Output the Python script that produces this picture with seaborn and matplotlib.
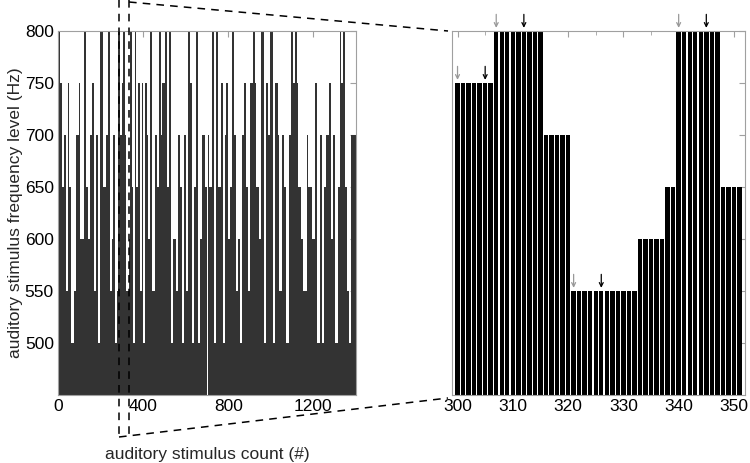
import numpy as np
import matplotlib
matplotlib.use('Agg')
import matplotlib.pyplot as plt
from matplotlib.lines import Line2D
import seaborn as sns

sns.set_style('white')
plt.rcParams['font.family'] = ['Liberation Sans', 'DejaVu Sans']

# stimulus sequence, run-length encoded (level in Hz, tones per run)
run_levels = [800, 750, 650, 700, 550, 750, 650, 500, 550, 700, 750, 600, 800, 650, 600, 700, 750, 550, 700, 500, 800, 650,
              650, 700, 800, 550, 600, 700, 500, 550, 800, 700,
              750, 800, 700, 550, 600, 650, 800, 650,
              500, 800, 650, 750, 550, 750, 500, 750, 700, 600, 800, 550,
              700, 650, 800, 700, 750, 800, 650, 800, 500, 600, 550, 700, 650, 500, 700, 550, 800, 750, 500, 650, 800, 500, 600, 700, 650,
              0,
              700, 650, 800, 500, 800, 650, 750, 500, 700, 750, 600, 650, 800, 700, 550, 600, 500, 700, 750, 650, 550, 750, 800,
              750, 650, 600, 800, 500, 750, 700, 800, 500, 750, 700, 550, 700, 650, 500, 700, 800, 750, 800, 750, 650, 600, 550,
              550, 700, 650, 600, 750, 500, 700, 500, 650, 700, 750, 600, 700, 500, 650, 800, 750, 800, 650, 550, 500, 700]
run_lengths = [9, 10, 12, 7, 9, 6, 9, 13, 12, 10, 9, 15, 9, 12, 9, 8, 9, 13, 8, 10, 12, 9,
               8, 9, 6, 10, 7, 8, 9, 7, 7, 9,
               7, 9, 5, 12, 5, 2, 8, 6,
               9, 6, 8, 7, 9, 6, 10, 8, 8, 9, 7, 15,
               8, 11, 9, 7, 12, 9, 10, 9, 11, 11, 10, 9, 10, 9, 10, 12, 9, 9, 10, 9, 10, 9, 10, 10, 10,
               4,
               8, 15, 9, 10, 9, 10, 11, 8, 8, 8, 8, 11, 9, 11, 8, 9, 9, 9, 9, 10, 9, 14, 10,
               6, 15, 9, 12, 12, 9, 10, 11, 11, 12, 9, 12, 9, 10, 12, 9, 10, 9, 9, 9, 10, 12, 8,
               8, 8, 19, 12, 12, 11, 11, 9, 11, 11, 12, 9, 9, 12, 9, 9, 9, 9, 9, 9, 9, 23]

zoom_start, zoom_stop = 300, 351
gray_arrows = [300, 307, 321, 340]    # first tone of a run
black_arrows = [305, 312, 326, 345]   # sixth tone of a run

level_ticks = [500, 550, 600, 650, 700, 750, 800]
count_ticks = [0, 400, 800, 1200]
zoom_ticks = [300, 310, 320, 330, 340, 350]

levels = np.repeat(run_levels, run_lengths)
count = np.arange(len(levels))

W, H = 750, 463
fig = plt.figure(figsize=(W / 100, H / 100), dpi=100)
ax1 = fig.add_axes([58 / W, 68 / H, 298 / W, 364 / H])
ax2 = fig.add_axes([452 / W, 68 / H, 293 / W, 364 / H])

# whole session
sns.barplot(x=count, y=levels, native_scale=True, width=1.0, color='#333333',
            saturation=1, errorbar=None, linewidth=0, antialiased=False, ax=ax1)
ax1.set_xlim(0, 1400)
ax1.set_ylim(450, 800)
ax1.set_xticks(count_ticks)
ax1.set_yticks(level_ticks)
ax1.set_xlabel('auditory stimulus count (#)', fontsize=12.5, labelpad=24)
ax1.set_ylabel('auditory stimulus frequency level (Hz)', fontsize=12.5, labelpad=1)

# zoomed stretch
sel = (count >= zoom_start) & (count <= zoom_stop)
sns.barplot(x=count[sel], y=levels[sel], native_scale=True, width=0.8, color='black',
            saturation=1, errorbar=None, linewidth=0, ax=ax2)
ax2.set_xlim(299, 352)
ax2.set_ylim(450, 800)
ax2.set_xticks(zoom_ticks)
ax2.set_xticks([305, 315, 325, 335, 345], minor=True)
ax2.set_yticks(level_ticks)
ax2.set_yticklabels([])
ax2.set_xlabel('')
ax2.set_ylabel('')

for x in gray_arrows + black_arrows:
    c = '#999999' if x in gray_arrows else 'black'
    top = levels[x]
    ax2.annotate('', xy=(x, top + 3), xytext=(x, top + 16), annotation_clip=False,
                 arrowprops=dict(arrowstyle='->', color=c, lw=0.9,
                                 mutation_scale=7, shrinkA=0, shrinkB=0))

for ax in (ax1, ax2):
    for s in ax.spines.values():
        s.set_color('#a0a0a0')
        s.set_linewidth(0.8)
    ax.tick_params(which='both', direction='in', top=True, right=True, length=4,
                   color='#a0a0a0', labelsize=12.5, labelcolor='black', pad=3)
    ax.tick_params(which='minor', length=3)

# dashed zoom connector, figure pixels
dash = dict(color='black', lw=1.1, linestyle=(0, (5, 4)), transform=fig.transFigure)
segments = [((119, 0), (119, 437)),
            ((129, 0), (129, 435)),
            ((119, 437), (448, 398)),
            ((129, 2), (448, 31))]
for (xa, ya), (xb, yb) in segments:
    fig.add_artist(Line2D([xa / W, xb / W], [1 - ya / H, 1 - yb / H], **dash))

fig.savefig('out.png', dpi=100)
